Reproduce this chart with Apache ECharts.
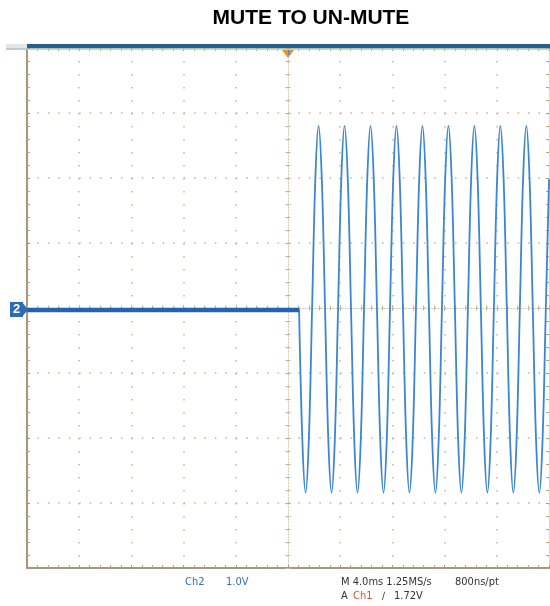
<!DOCTYPE html>
<html>
<head>
<meta charset="utf-8">
<script src="https://cdn.jsdelivr.net/npm/echarts@6/dist/echarts.min.js"></script>
<style>
html,body{margin:0;padding:0;background:#fff;}
#chart{width:550px;height:606px;}
</style>
</head>
<body>
<div id="chart"></div>
<script>
// ---- data (time in ms, amplitude in V, 1.0 V/div, 4.0 ms/div) ----
const chartTitle = 'MUTE TO UN-MUTE';
const xRangeMs = [-20, 20];
const xDivMs = 4;
const yRangeV = [-4, 4];
const yDivV = 1;

// muted part: flat trace before the signal starts
const mutedTimes = [-20, 0.85];
const mutedValues = [-0.03, -0.03];

// un-muted part: sampled trace, sample interval below
const sampleStartMs = 0.85;
const sampleStepMs = 0.24875;
const sineValues = [
  -0.02,-2.03,-2.84,-2.03,-0.02,1.98,2.80,1.98,
  -0.02,-2.03,-2.84,-2.03,-0.02,1.98,2.80,1.98,
  -0.02,-2.03,-2.84,-2.03,-0.02,1.98,2.80,1.98,
  -0.02,-2.03,-2.84,-2.03,-0.02,1.98,2.80,1.98,
  -0.02,-2.03,-2.84,-2.03,-0.02,1.98,2.80,1.98,
  -0.02,-2.03,-2.84,-2.03,-0.02,1.98,2.80,1.98,
  -0.02,-2.03,-2.84,-2.03,-0.02,1.98,2.80,1.98,
  -0.02,-2.03,-2.84,-2.03,-0.02,1.98,2.80,1.98,
  -0.02,-2.03,-2.84,-2.03,-0.02,1.98,2.80,1.98,
  -0.02,-2.03,-2.84,-2.03,-0.02,1.98
];

// readout texts
const chLabel = 'Ch2';
const vDivLabel = '1.0V';
const timeLabel = 'M 4.0ms 1.25MS/s';
const ptLabel = '800ns/pt';
const trigA = 'A';
const trigCh = 'Ch1';
const trigSlope = '\u2215';
const trigLevel = '1.72V';
const chMarker = '2';

// ---- build ----
const mutedData = mutedTimes.map((t, i) => [t, mutedValues[i]]);
const sineData = sineValues.map((v, i) => [+(sampleStartMs + i * sampleStepMs).toFixed(4), v]);

const tan = '#b5a587';
const tanDark = '#a89878';
const readFont = '"Liberation Sans Narrow","Arial Narrow","DejaVu Sans Condensed",sans-serif';

function xAx(extra) {
  return Object.assign({
    type: 'value', min: xRangeMs[0], max: xRangeMs[1], interval: xDivMs,
    axisLabel: { show: false },
    axisLine: { show: false, onZero: false },
    axisTick: { show: true, inside: true, length: 3, lineStyle: { color: tanDark, width: 1 } },
    minorTick: { show: true, splitNumber: 5, length: 3, lineStyle: { color: tan, width: 1 } },
    splitLine: { show: false }
  }, extra);
}
function yAx(extra) {
  return Object.assign({
    type: 'value', min: yRangeV[0], max: yRangeV[1], interval: yDivV,
    axisLabel: { show: false },
    axisLine: { show: false, onZero: false },
    axisTick: { show: true, inside: true, length: 3, lineStyle: { color: tanDark, width: 1 } },
    minorTick: { show: true, splitNumber: 5, length: 3, lineStyle: { color: tan, width: 1 } },
    splitLine: { show: false }
  }, extra);
}

const centerLine = { show: true, onZero: false, lineStyle: { color: '#d3c7ad', width: 1, type: [1.2, 1.8] } };
const centerTick = { color: '#c4b596', width: 1 };

const chart = echarts.init(document.getElementById('chart'), null, { renderer: 'canvas' });
chart.setOption({
  animation: false,
  backgroundColor: '#ffffff',
  grid: { left: 27, top: 48, width: 522, height: 520, show: false },
  xAxis: [
    xAx({ position: 'bottom',
      axisLine: { show: true, onZero: false, lineStyle: { color: tanDark, width: 2 } },
      splitLine: { show: true, lineStyle: { color: '#c3b596', width: 1.5, type: [1.5, 11.5] } } }),
    xAx({ position: 'top' }),
    xAx({ position: 'bottom', offset: -260, axisLine: centerLine,
      axisTick: { show: true, inside: true, length: 3, lineStyle: centerTick },
      minorTick: { show: true, splitNumber: 5, length: 2.5, lineStyle: centerTick } }),
    xAx({ position: 'bottom', offset: -260,
      axisTick: { show: true, inside: false, length: 3, lineStyle: centerTick },
      minorTick: { show: true, splitNumber: 5, length: 2.5, lineStyle: centerTick } })
  ],
  yAxis: [
    yAx({ position: 'left',
      axisLine: { show: true, onZero: false, lineStyle: { color: tanDark, width: 2 } },
      splitLine: { show: true, lineStyle: { color: '#c3b596', width: 1.5, type: [1.5, 8.94] } } }),
    yAx({ position: 'right',
      axisLine: { show: true, onZero: false, lineStyle: { color: '#d8d8d8', width: 1 } } }),
    yAx({ position: 'left', offset: -261, axisLine: centerLine,
      axisTick: { show: true, inside: true, length: 3, lineStyle: centerTick },
      minorTick: { show: true, splitNumber: 5, length: 2.5, lineStyle: centerTick } }),
    yAx({ position: 'left', offset: -261,
      axisTick: { show: true, inside: false, length: 3, lineStyle: centerTick },
      minorTick: { show: true, splitNumber: 5, length: 2.5, lineStyle: centerTick } })
  ],
  series: [
    { type: 'line', data: mutedData, showSymbol: false, symbol: 'none', z: 5,
      lineStyle: { color: '#2463ae', width: 4.5 } },
    { type: 'line', data: sineData, showSymbol: false, symbol: 'none', smooth: 0.35, z: 4,
      lineStyle: { color: '#3a86d2', width: 1.8 } }
  ],
  graphic: [
    { type: 'text', x: 311, y: 18, z: 12,
      style: { text: chartTitle, fill: '#000000', font: 'bold 21px "Liberation Sans", Arial, sans-serif', textAlign: 'center', textVerticalAlign: 'middle' } },
    { type: 'rect', shape: { x: 6, y: 44, width: 21, height: 5 }, style: { fill: '#e3e5e8' }, z: 10 },
    { type: 'rect', shape: { x: 6, y: 48.5, width: 21, height: 1.2 }, style: { fill: '#9db2c8' }, z: 10 },
    { type: 'rect', shape: { x: 27, y: 44, width: 523, height: 4.5 }, style: { fill: '#245f8e' }, z: 10 },
    { type: 'rect', shape: { x: 27, y: 48.5, width: 523, height: 1.5 }, style: { fill: '#cfdc9a' }, z: 10 },
    // trigger position marker
    { type: 'polygon', shape: { points: [[282, 50], [294, 50], [288, 58]] }, style: { fill: '#f0912e' }, z: 10 },
    { type: 'rect', shape: { x: 288, y: 50, width: 1.5, height: 5 }, style: { fill: '#5b86b8' }, z: 11 },
    // channel ground marker
    { type: 'rect', shape: { x: 10, y: 302, width: 13, height: 15 }, style: { fill: '#2a6cb8' }, z: 10 },
    { type: 'polygon', shape: { points: [[22, 302], [28, 309.5], [22, 317]] }, style: { fill: '#2a6cb8' }, z: 10 },
    { type: 'text', x: 16.5, y: 309.5, z: 11,
      style: { text: chMarker, fill: '#ffffff', font: 'bold 13px "Liberation Sans", Arial, sans-serif', textAlign: 'center', textVerticalAlign: 'middle' } },
    // readouts
    { type: 'text', x: 185, y: 582, style: { text: chLabel, fill: '#2f6fc0', font: '11px ' + readFont, textVerticalAlign: 'middle' } },
    { type: 'text', x: 226, y: 582, style: { text: vDivLabel, fill: '#2f6fc0', font: '11px ' + readFont, textVerticalAlign: 'middle' } },
    { type: 'text', x: 341, y: 582, style: { text: timeLabel, fill: '#333333', font: '11px ' + readFont, textVerticalAlign: 'middle' } },
    { type: 'text', x: 455, y: 582, style: { text: ptLabel, fill: '#333333', font: '11px ' + readFont, textVerticalAlign: 'middle' } },
    { type: 'text', x: 341, y: 596, style: { text: trigA, fill: '#333333', font: '11px ' + readFont, textVerticalAlign: 'middle' } },
    { type: 'text', x: 353, y: 596, style: { text: trigCh, fill: '#d0562a', font: '11px ' + readFont, textVerticalAlign: 'middle' } },
    { type: 'text', x: 382, y: 596, style: { text: trigSlope, fill: '#333333', font: '10px ' + readFont, textVerticalAlign: 'middle' } },
    { type: 'text', x: 394, y: 596, style: { text: trigLevel, fill: '#333333', font: '11px ' + readFont, textVerticalAlign: 'middle' } }
  ]
});
</script>
</body>
</html>
